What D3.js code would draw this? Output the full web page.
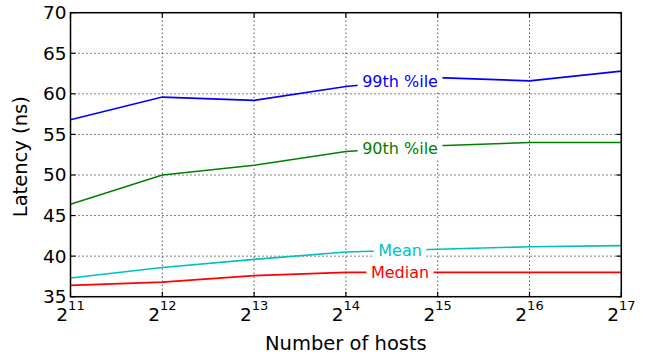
<!DOCTYPE html>
<html>
<head>
<meta charset="utf-8">
<script src="https://cdn.jsdelivr.net/npm/d3@7"></script>
<style>
  html, body { margin: 0; padding: 0; background: #fff; }
  svg { display: block; font-family: "DejaVu Sans", sans-serif; }
</style>
</head>
<body>
<svg id="chart" width="651" height="358"></svg>
<script>
// ---- data ----
const exponents = [11, 12, 13, 14, 15, 16, 17];          // hosts = 2^exp
const p99    = [56.8, 59.6, 59.2, 60.9, 62.0, 61.6, 62.8];
const p90    = [46.4, 50.0, 51.2, 52.9, 53.6, 54.0, 54.0];
const mean   = [37.3, 38.6, 39.6, 40.5, 40.85, 41.15, 41.3];
const median = [36.4, 36.8, 37.6, 38.0, 38.0, 38.0, 38.0];
const yTicks = [35, 40, 45, 50, 55, 60, 65, 70];
const seriesNames  = ["99th %ile", "90th %ile", "Mean", "Median"];
const seriesColors = ["#0000ff", "#008000", "#00bfbf", "#ff0000"];
const labelExp = 14.59;

const series = [p99, p90, mean, median];

const svg = d3.select("#chart");
const L = 70.5, R = 621.3, T = 12.7, B = 296.7;

const x = d3.scaleLog().base(2).domain([2 ** 11, 2 ** 17]).range([L, R]);
const y = d3.scaleLinear().domain([35, 70]).range([B, T]);

// grid
const grid = svg.append("g").attr("stroke", "#000").attr("stroke-width", 1)
  .attr("stroke-dasharray", "1,3");
exponents.forEach(e => {
  grid.append("line").attr("x1", x(2 ** e)).attr("x2", x(2 ** e))
    .attr("y1", T).attr("y2", B);
});
yTicks.forEach(v => {
  grid.append("line").attr("x1", L).attr("x2", R)
    .attr("y1", y(v)).attr("y2", y(v));
});

// lines
const line = d3.line().x((d, i) => x(2 ** exponents[i])).y(d => y(d));
series.forEach((s, k) => {
  svg.append("path").datum(s).attr("d", line)
    .attr("fill", "none").attr("stroke", seriesColors[k]).attr("stroke-width", 1.6);
});

// inline labels
series.forEach((s, k) => {
  const i0 = Math.floor(labelExp) - 11;
  const f = labelExp - Math.floor(labelExp);
  const v = s[i0] + (s[i0 + 1] - s[i0]) * f;
  const lx = x(2 ** labelExp), ly = y(v);
  const g = svg.append("g");
  const t = g.append("text").attr("x", lx).attr("y", ly)
    .attr("text-anchor", "middle").attr("dominant-baseline", "central")
    .attr("font-size", 16).attr("fill", seriesColors[k]).text(seriesNames[k]);
  const bb = t.node().getBBox();
  g.insert("rect", "text").attr("x", bb.x - 4.5).attr("y", ly - 10)
    .attr("width", bb.width + 9).attr("height", 20).attr("fill", "#fff");
});

// frame
svg.append("rect").attr("x", L).attr("y", T).attr("width", R - L).attr("height", B - T)
  .attr("fill", "none").attr("stroke", "#000").attr("stroke-width", 1.5);

// ticks (inward, all sides)
const tk = svg.append("g").attr("stroke", "#000").attr("stroke-width", 1.2);
exponents.forEach(e => {
  const xx = x(2 ** e);
  tk.append("line").attr("x1", xx).attr("x2", xx).attr("y1", B).attr("y2", B - 5);
  tk.append("line").attr("x1", xx).attr("x2", xx).attr("y1", T).attr("y2", T + 5);
});
yTicks.forEach(v => {
  const yy = y(v);
  tk.append("line").attr("x1", L).attr("x2", L + 5).attr("y1", yy).attr("y2", yy);
  tk.append("line").attr("x1", R).attr("x2", R - 5).attr("y1", yy).attr("y2", yy);
});

// y tick labels
yTicks.forEach(v => {
  svg.append("text").attr("x", L - 4).attr("y", y(v))
    .attr("text-anchor", "end").attr("dominant-baseline", "central")
    .attr("font-size", 18.5).attr("fill", "#000").text(v);
});

// x tick labels 2^e
exponents.forEach(e => {
  const t = svg.append("text").attr("x", x(2 ** e)).attr("y", 321)
    .attr("text-anchor", "middle").attr("fill", "#000");
  t.append("tspan").attr("font-size", 18.5).text("2");
  t.append("tspan").attr("font-size", 13).attr("dy", -11).text(e);
});

// axis titles
svg.append("text").attr("x", (L + R) / 2).attr("y", 350)
  .attr("text-anchor", "middle").attr("font-size", 19.5).attr("fill", "#000")
  .text("Number of hosts");
svg.append("text").attr("transform", `translate(27,${(T + B) / 2 + 2}) rotate(-90)`)
  .attr("text-anchor", "middle").attr("font-size", 19.5).attr("fill", "#000")
  .text("Latency (ns)");
</script>
</body>
</html>
